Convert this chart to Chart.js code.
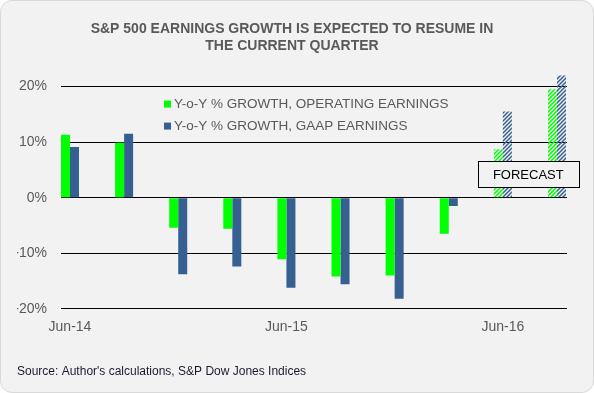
<!DOCTYPE html>
<html>
<head>
<meta charset="utf-8">
<script src="https://cdn.jsdelivr.net/npm/chart.js@4.4.1/dist/chart.umd.min.js"></script>
<style>
  html, body { margin: 0; padding: 0; background: #fff; }
  #card {
    position: relative; width: 594px; height: 393px; box-sizing: border-box;
    background: #f2f2f2; border: 1px solid #d9d9d9; border-radius: 12px; overflow: hidden;
  }
  #card canvas { position: absolute; left: -1px; top: -1px; }
</style>
</head>
<body>
<div id="card"><canvas id="chart" width="594" height="393"></canvas></div>
<script>
const categories = ['Jun-14', 'Sep-14', 'Dec-14', 'Mar-15', 'Jun-15', 'Sep-15', 'Dec-15', 'Mar-16', 'Jun-16', 'Sep-16'];
const operatingGrowth = [11.3, 9.9, -5.4, -5.6, -11.1, -14.2, -14.0, -6.5, 8.7, 19.5];
const gaapGrowth = [9.1, 11.5, -13.8, -12.4, -16.2, -15.6, -18.2, -1.5, 15.5, 22.0];
const forecastFrom = 8;          // Jun-16 onwards are estimates
const xTickIndexes = [0, 4, 8];  // only every 4th quarter is labelled
const yTicks = [-20, -10, 0, 10, 20];

const FONT = 'Liberation Sans, Arial, sans-serif';
const GREEN = '#00ff00';
const BLUE = '#376092';

// diagonal hatch used for the forecast bars
function hatch(color) {
  const c = document.createElement('canvas');
  c.width = 4; c.height = 4;
  const g = c.getContext('2d');
  g.strokeStyle = color;
  g.lineWidth = 1.5;
  g.beginPath();
  g.moveTo(-1, 5); g.lineTo(5, -1);
  g.moveTo(-1, 1); g.lineTo(1, -1);
  g.moveTo(3, 5); g.lineTo(5, 3);
  g.stroke();
  return g.createPattern(c, 'repeat');
}

function barColors(color) {
  const pat = hatch(color);
  return categories.map((c, i) => i >= forecastFrom ? pat : color);
}

const datasets = [
  { label: 'Y-o-Y % GROWTH, OPERATING EARNINGS', values: operatingGrowth, color: GREEN },
  { label: 'Y-o-Y % GROWTH, GAAP EARNINGS', values: gaapGrowth, color: BLUE }
];

// legend sits inside the plot, drawn by hand
const insideLegend = {
  id: 'insideLegend',
  afterDraw(chart) {
    const ctx = chart.ctx;
    const a = chart.chartArea;
    ctx.save();
    ctx.font = '13.5px ' + FONT;
    ctx.textBaseline = 'middle';
    datasets.forEach((d, i) => {
      const y = a.top + 32 + i * 22;
      ctx.fillStyle = d.color;
      ctx.fillRect(a.left + 103, y - 4, 7, 7);
      ctx.fillStyle = '#595959';
      ctx.fillText(d.label, a.left + 113, y);
    });
    ctx.restore();
  }
};

const forecastBox = {
  id: 'forecastBox',
  afterDatasetsDraw(chart) {
    const ctx = chart.ctx;
    const cx = chart.scales.x.getPixelForValue(8.47);
    const cy = chart.scales.y.getPixelForValue(4.2);
    ctx.save();
    ctx.fillStyle = '#f2f2f2';
    ctx.strokeStyle = '#000';
    ctx.lineWidth = 1;
    ctx.fillRect(cx - 50, cy - 13, 101, 26);
    ctx.strokeRect(Math.round(cx - 50) + 0.5, Math.round(cy - 13) + 0.5, 101, 26);
    ctx.fillStyle = '#000';
    ctx.font = '13px ' + FONT;
    ctx.textAlign = 'center';
    ctx.textBaseline = 'middle';
    ctx.fillText('FORECAST', cx, cy + 1);
    ctx.restore();
  }
};

new Chart(document.getElementById('chart'), {
  type: 'bar',
  data: {
    datasets: datasets.map(d => ({
      label: d.label,
      data: d.values.map((v, i) => ({ x: i, y: v })),
      backgroundColor: barColors(d.color),
      borderWidth: 0,
      categoryPercentage: 0.333,
      barPercentage: 1
    }))
  },
  options: {
    responsive: false,
    animation: false,
    layout: { padding: { left: 17, right: 27, top: 0, bottom: 0 } },
    plugins: {
      legend: { display: false },
      tooltip: { enabled: false },
      title: {
        display: true,
        text: ['S&P 500 EARNINGS GROWTH IS EXPECTED TO RESUME IN', 'THE CURRENT QUARTER'],
        color: '#595959',
        font: { family: FONT, size: 14, weight: 'bold' },
        padding: { top: 21, bottom: 18 }
      },
      subtitle: {
        display: true,
        position: 'bottom',
        align: 'start',
        text: "Source: Author's calculations, S&P Dow Jones Indices",
        color: '#1c1a33',
        font: { family: FONT, size: 12 },
        padding: { top: 27, bottom: 14 }
      }
    },
    scales: {
      x: {
        type: 'linear',
        offset: false,
        min: -0.166,
        max: 9.185,
        afterBuildTicks: s => { s.ticks = xTickIndexes.map(v => ({ value: v })); },
        ticks: {
          autoSkip: false,
          maxRotation: 0,
          padding: 2,
          color: '#595959',
          font: { family: FONT, size: 14 },
          callback: v => categories[v]
        },
        grid: { display: false },
        border: { display: false }
      },
      y: {
        min: -20,
        max: 22.5,
        afterBuildTicks: s => { s.ticks = yTicks.map(v => ({ value: v })); },
        afterFit: s => { s.width = 44; },
        ticks: {
          padding: 14,
          color: '#595959',
          font: { family: FONT, size: 14 },
          callback: v => v + '%'
        },
        grid: { color: '#000', lineWidth: 1, drawTicks: false },
        border: { display: false }
      }
    }
  },
  plugins: [insideLegend, forecastBox]
});
</script>
</body>
</html>
